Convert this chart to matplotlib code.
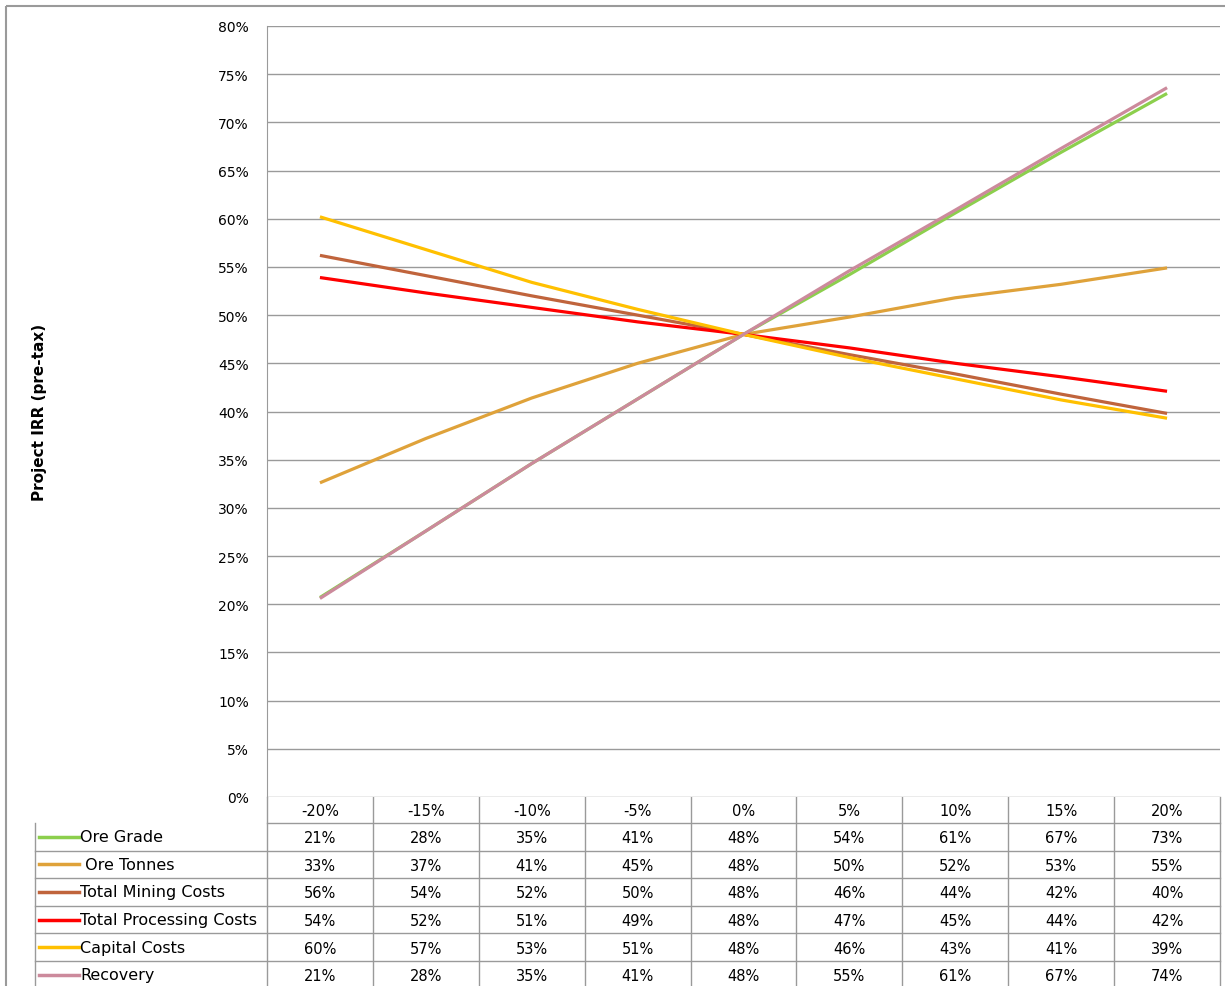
import matplotlib.pyplot as plt
from matplotlib.patches import Rectangle

# sensitivity steps and IRR results per driver
steps = ["-20%", "-15%", "-10%", "-5%", "0%", "5%", "10%", "15%", "20%"]

ore_grade = [20.7, 27.6, 34.6, 41.3, 48.0, 54.2, 60.6, 66.9, 73.0]
ore_tonnes = [32.6, 37.2, 41.4, 45.0, 48.0, 49.8, 51.8, 53.2, 54.9]
mining_costs = [56.2, 54.1, 52.0, 50.0, 48.0, 45.9, 43.9, 41.8, 39.8]
processing_costs = [53.9, 52.3, 50.8, 49.3, 48.0, 46.6, 45.0, 43.6, 42.1]
capital_costs = [60.2, 56.8, 53.4, 50.6, 48.0, 45.6, 43.4, 41.2, 39.3]
recovery = [20.6, 27.6, 34.6, 41.3, 48.0, 54.6, 60.9, 67.3, 73.6]

names = ["Ore Grade", " Ore Tonnes", "Total Mining Costs",
         "Total Processing Costs", "Capital Costs", "Recovery"]
series = [ore_grade, ore_tonnes, mining_costs, processing_costs,
          capital_costs, recovery]
colors = ["#8ccf4d", "#dfa23a", "#c0643c", "#ff0000", "#ffc000", "#cc8a9c"]

W, H = 1225, 987
fig = plt.figure(figsize=(W / 100, H / 100), dpi=100)

# plot area in pixel terms
left, right, top, bottom = 267, 1220, 27, 798
ax = fig.add_axes([left / W, 1 - bottom / H, (right - left) / W, (bottom - top) / H])

grid_c = "#9a9a9a"

x = list(range(len(steps)))
for vals, c in zip(series, colors):
    ax.plot(x, vals, color=c, lw=2.3, solid_capstyle="butt")

ax.set_xlim(-0.5, len(steps) - 0.5)
ax.set_ylim(0, 80)
ax.set_yticks(range(0, 81, 5))
ax.set_yticklabels([f"{v}%" for v in range(0, 81, 5)], fontsize=10)
ax.set_xticks([])
ax.tick_params(axis="y", length=0, pad=13)
ax.grid(axis="y", color=grid_c, lw=1)
for s in ["top", "right", "bottom"]:
    ax.spines[s].set_visible(False)
ax.spines["left"].set_color(grid_c)
ax.set_axisbelow(True)

# overlay in pixel coordinates for the data table and border
ov = fig.add_axes([0, 0, 1, 1], zorder=-1)
ov.set_xlim(0, W)
ov.set_ylim(H, 0)
ov.axis("off")

ov.add_patch(Rectangle((6, 7), W + 20, H + 20, fill=False, ec="#9a9a9a", lw=1.5))

ov.text(40, (top + bottom) / 2, "Project IRR (pre-tax)", rotation=90,
        ha="center", va="center", fontsize=11, fontweight="bold")

col_w = (right - left) / len(steps)
hdr_bot = 824
row_h = 27.6
tab_left = 35

# header row
ov.plot([left, right], [hdr_bot, hdr_bot], color=grid_c, lw=1)
for i, lab in enumerate(steps):
    cx = left + (i + 0.5) * col_w
    ov.text(cx, (bottom + hdr_bot) / 2 + 1, lab, ha="center", va="center", fontsize=10.5)

# vertical lines
for i in range(len(steps) + 1):
    xx = left + i * col_w
    ov.plot([xx, xx], [bottom, H + 5], color=grid_c, lw=1)
ov.plot([tab_left, tab_left], [hdr_bot, H + 5], color=grid_c, lw=1)

# data rows
for r, (name, vals, c) in enumerate(zip(names, series, colors)):
    y0 = hdr_bot + r * row_h
    yc = y0 + row_h / 2
    ov.plot([tab_left, right], [y0 + row_h, y0 + row_h], color=grid_c, lw=1)
    ov.plot([tab_left + 4, tab_left + 44], [yc, yc], color=c, lw=2.5)
    ov.text(tab_left + 45, yc, name, ha="left", va="center", fontsize=11.5)
    for i, v in enumerate(vals):
        cx = left + (i + 0.5) * col_w
        ov.text(cx, yc + 1, f"{round(v)}%", ha="center", va="center", fontsize=10.5)

fig.savefig("out.png", dpi=100)
